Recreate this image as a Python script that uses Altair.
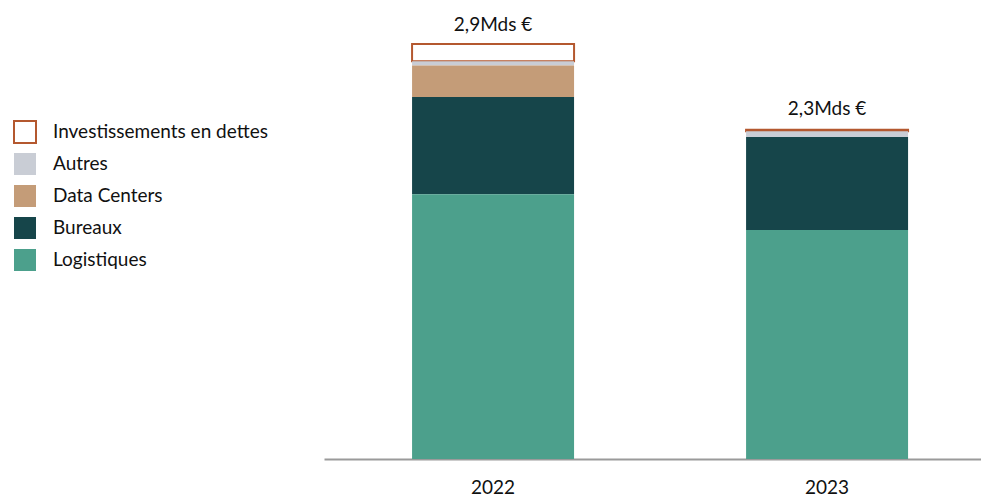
import altair as alt
import pandas as pd

years = ["2022", "2023"]
categories = ["Investissements en dettes", "Autres", "Data Centers", "Bureaux", "Logistiques"]
stack_rank = [4, 3, 2, 1, 0]
values_2022 = [0.12, 0.03, 0.22, 0.68, 1.85]
values_2023 = [0.01, 0.04, 0.0, 0.65, 1.60]
totals = [2.9, 2.31]
total_labels = ["2,9Mds €", "2,3Mds €"]

fill_colors = ["#ffffff", "#c9cdd5", "#c49c78", "#16454a", "#4ca08c"]
stroke_colors = ["#b4582f", "transparent", "transparent", "transparent", "transparent"]

rows = []
for y, vals in zip(years, [values_2022, values_2023]):
    for c, r, v in zip(categories, stack_rank, vals):
        if v > 0:
            rows.append({"year": y, "cat": c, "rank": r, "value": v})
df = pd.DataFrame(rows)
tot = pd.DataFrame({"year": years, "total": totals, "label": total_labels})

FONT = "Lato"

x = alt.X("year:N", title=None,
          scale=alt.Scale(paddingInner=0.515, paddingOuter=0.241, align=0.547),
          axis=alt.Axis(labelAngle=0, ticks=False, domainColor="#9a9a9a", domainWidth=2,
                        labelFontSize=19, labelColor="#111111", labelPadding=19,
                        labelFont=FONT))
yscale = alt.Scale(domain=[0, 2.9], nice=False, zero=True)

leg = alt.Legend(orient="none", legendX=-311, legendY=76,
                 symbolType="square", symbolSize=484,
                 symbolStrokeWidth=2, labelFontSize=19,
                 labelFont=FONT, labelColor="#111111", labelLimit=400,
                 labelOffset=16, rowPadding=2, symbolOpacity=1)

bars = alt.Chart(df).mark_bar(strokeWidth=2).encode(
    x=x,
    y=alt.Y("value:Q", stack="zero", scale=yscale, axis=None),
    fill=alt.Fill("cat:N", scale=alt.Scale(domain=categories, range=fill_colors),
                  sort=categories, title=None, legend=leg),
    stroke=alt.Stroke("cat:N", scale=alt.Scale(domain=categories, range=stroke_colors),
                      sort=categories, title=None, legend=leg),
    order=alt.Order("rank:Q", sort="ascending"),
)

labels = alt.Chart(tot).mark_text(dy=-19, fontSize=19, font=FONT, color="#111111",
                                  baseline="middle").encode(
    x=alt.X("year:N"),
    y=alt.Y("total:Q", scale=yscale),
    text="label:N",
)

chart = alt.layer(bars, labels).properties(
    width=657, height=415,
    padding={"left": 324, "top": 44, "right": 0, "bottom": 35},
    autosize=alt.AutoSizeParams(type="none"),
).configure_view(stroke=None).configure_axis(grid=False)

chart.save("out.html", embed_options={"renderer": "svg", "actions": False})
